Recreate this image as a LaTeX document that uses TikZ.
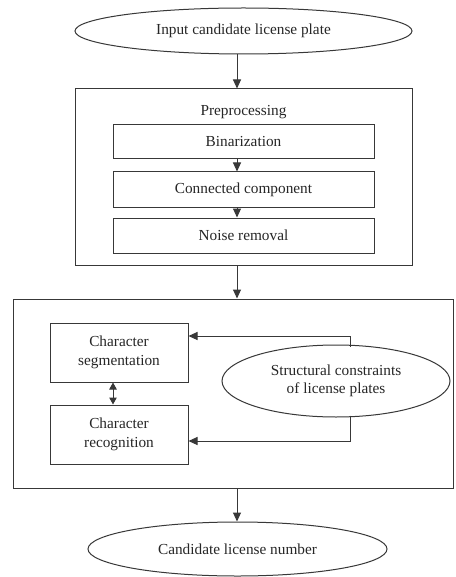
\documentclass[tikz,border=0pt]{standalone}
\usepackage{fontspec}
\setmainfont{Liberation Serif}
\usetikzlibrary{shapes.geometric,arrows.meta}
\begin{document}
\begin{tikzpicture}[x=1pt,y=-1pt,
  every node/.style={font=\fontsize{15.3}{18.5}\selectfont, text=black!85, align=center, inner sep=0pt},
  ln/.style={draw=black!78, line width=1pt},
  oval/.style={ln, ellipse},
  box/.style={ln, rectangle},
  arr/.style={ln, -{Triangle[length=9pt,width=8pt]}},
  darr/.style={ln, {Triangle[length=7pt,width=7.5pt]}-{Triangle[length=7pt,width=7.5pt]}}]
\useasboundingbox (0,0) rectangle (455,577);
\fill[white] (0,0) rectangle (455,577);
% coordinates for connector axes
\coordinate (ax) at (237,0);
\coordinate (dax) at (113,0);
\coordinate (fax) at (350,0);
\coordinate (ytop) at (0,336);
\coordinate (ybot) at (0,441);
% nodes
\node[oval, minimum width=337pt, minimum height=46pt] (input) at (243.5,31) {Input candidate license plate};
\node[box, minimum width=337pt, minimum height=176pt] (pre) at (244,177) {};
\node (pretitle) at (243.5,112) {Preprocessing};
\node[box, minimum width=261pt, minimum height=34pt] (bin) at (243.5,142) {Binarization};
\node[box, minimum width=261pt, minimum height=35pt] (cc) at (243.5,189.5) {Connected component};
\node[box, minimum width=261pt, minimum height=35pt] (nr) at (243.5,235.5) {Noise removal};
\node[box, minimum width=440pt, minimum height=189pt] (main) at (233,393.5) {};
\node[box, minimum width=138pt, minimum height=59pt] (seg) at (119,352.5) {Character\\segmentation};
\node[box, minimum width=138pt, minimum height=59pt] (rec) at (119,434.5) {Character\\recognition};
\node[oval, minimum width=228pt, minimum height=72pt] (sc) at (336,381) {Structural constraints\\of license plates};
\node[oval, minimum width=299pt, minimum height=54pt] (out) at (237.5,549) {Candidate license number};
% connectors
\draw[arr] (input.south -| ax) -- (pre.north -| ax);
\draw[arr] (bin.south -| ax) -- (cc.north -| ax);
\draw[arr] (cc.south -| ax) -- (nr.north -| ax);
\draw[arr] (pre.south -| ax) -- (main.north -| ax);
\draw[arr] (main.south -| ax) -- (out.north -| ax);
\draw[darr] (seg.south -| dax) -- (rec.north -| dax);
\draw[arr] (fax |- sc.north) ++(0,2) -- (fax |- ytop) -- (seg.east |- ytop);
\draw[arr] (fax |- sc.south) ++(0,-2) -- (fax |- ybot) -- (rec.east |- ybot);
\end{tikzpicture}
\end{document}
